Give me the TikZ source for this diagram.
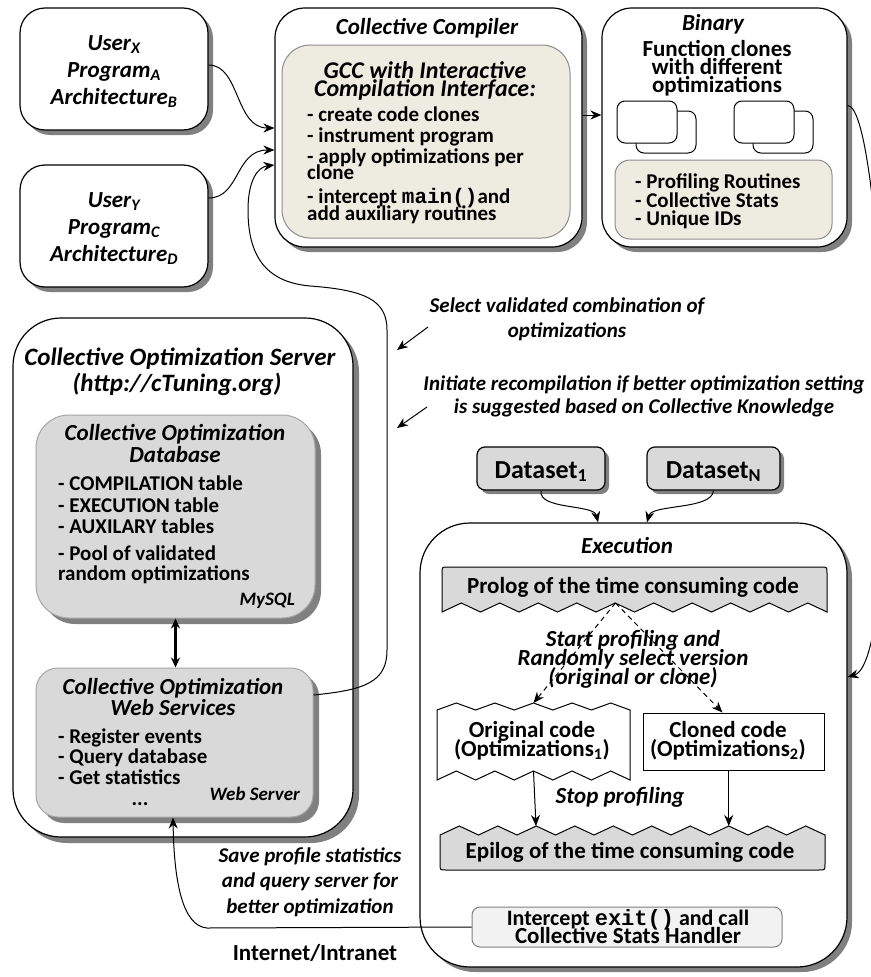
\documentclass[tikz,border=0pt]{standalone}
\usepackage{fontspec}
\setmainfont{Carlito}
\newfontfamily\monof{Liberation Mono}
\usetikzlibrary{arrows.meta,shadows}
\definecolor{beige}{HTML}{EEECE1}
\definecolor{lgray}{HTML}{D9D9D9}
\definecolor{shgray}{HTML}{808080}
\definecolor{bgray}{HTML}{8C8C8C}
\definecolor{vlgray}{HTML}{F2F2F2}
\newcommand\fb[1]{\fontsize{#1}{#1}\selectfont\bfseries}
\newcommand\fbi[1]{\fontsize{#1}{#1}\selectfont\bfseries\itshape}
\begin{document}
\begin{tikzpicture}[x=1pt,y=-1pt,
  shad/.style={drop shadow={shadow xshift=#1,shadow yshift=-#1,fill=shgray,opacity=1}},
  box/.style={draw,line width=1.2pt,fill=white,rectangle,inner sep=0pt},
  ibox/.style={draw=bgray,line width=1pt,rectangle,inner sep=0pt},
  tl/.style={inner sep=0pt,anchor=base},
  tlw/.style={inner sep=0pt,anchor=base west},
  tle/.style={inner sep=0pt,anchor=base east},
  arr/.style={-{Stealth[length=11pt,width=9pt]},line width=1pt},
  darr/.style={arr,dash pattern=on 5pt off 4pt},
  zig/.style={draw,line width=1pt,line join=miter}
]
\useasboundingbox (0,0) rectangle (870,977);

% ---------------- user boxes
\node[box,rounded corners=25pt,shad=5pt,minimum width=188pt,minimum height=122pt] (ux) at (114,69) {};
\node[tl] (ux1) at (114,50) {\fbi{23}User\textsubscript{X}};
\node[tl] (ux2) at (114,77) {\fbi{23}Program\textsubscript{A}};
\node[tl] (ux3) at (114,104) {\fbi{23}Architecture\textsubscript{B}};
\node[box,rounded corners=25pt,shad=5pt,minimum width=188pt,minimum height=122pt] (uy) at (114,226) {};
\node[tl] (uy1) at (114,207) {\fbi{23}User\textsubscript{Y}};
\node[tl] (uy2) at (114,234) {\fbi{23}Program\textsubscript{C}};
\node[tl] (uy3) at (114,261) {\fbi{23}Architecture\textsubscript{D}};

% ---------------- compiler
\node[box,rounded corners=30pt,shad=5pt,minimum width=307pt,minimum height=239pt] (cc) at (428.5,127.5) {};
\node[tl] (cct) at (427,34) {\fbi{23}Collective Compiler};
\node[ibox,fill=beige,rounded corners=28pt,minimum width=288pt,minimum height=193pt] (gcc) at (426,141.5) {};
\node[tl] (g1) at (425,78) {\fbi{24}GCC with Interactive};
\node[tl] (g2) at (425,96) {\fbi{24}Compilation Interface:};
\node[tlw] (g3) at (307,121) {\fb{21}- create code clones};
\node[tlw] (g4) at (307,142) {\fb{21}- instrument program};
\node[tlw] (g5) at (307,163) {\fb{21}- apply optimizations per};
\node[tlw] (g6) at (307,179) {\fb{21}clone};
\node[tlw] (g7) at (307,203) {\fb{21}- intercept {\monof main()}and};
\begin{scope}
\clip (282,45) rectangle (570,224);
\node[tlw] (g8) at (307,220) {\fb{21}add auxiliary routines};
\end{scope}

% ---------------- binary
\node[box,rounded corners=30pt,shad=5pt,minimum width=245pt,minimum height=239pt] (bin) at (724.5,127.5) {};
\node[tl] (bt) at (713,30) {\fbi{23}Binary};
\node[tl] (b1) at (717,56) {\fb{23}Function clones};
\node[tl] (b2) at (717,74) {\fb{23}with different};
\node[tl] (b3) at (717,92) {\fb{23}optimizations};
\node[box,line width=1pt,rounded corners=8pt,minimum width=60pt,minimum height=42pt] (f1b) at (666,132) {};
\node[box,line width=1pt,rounded corners=8pt,minimum width=60pt,minimum height=42pt] (f1a) at (647,122) {};
\node[box,line width=1pt,rounded corners=8pt,minimum width=60pt,minimum height=42pt] (f2b) at (783,132) {};
\node[box,line width=1pt,rounded corners=8pt,minimum width=60pt,minimum height=42pt] (f2a) at (764,122) {};
\node[ibox,fill=beige,rounded corners=15pt,minimum width=217pt,minimum height=79pt] (binr) at (723.5,199.5) {};
\node[tlw] (br1) at (635,188) {\fb{21}- Profiling Routines};
\node[tlw] (br2) at (635,207) {\fb{21}- Collective Stats};
\node[tlw] (br3) at (635,225) {\fb{21}- Unique IDs};

% ---------------- server
\node[box,rounded corners=48pt,shad=6pt,minimum width=340pt,minimum height=519pt] (srv) at (183,577.5) {};
\node[tl] (s1) at (180,365) {\fbi{25}Collective Optimization Server};
\node[tl] (s2) at (177,391) {\fbi{25}(http://cTuning.org)};
\node[ibox,draw=gray!70,fill=lgray,rounded corners=33pt,shad=6pt,minimum width=279pt,minimum height=203pt] (db) at (175.5,516.5) {};
\node[tl] (d1t) at (175,440) {\fbi{23}Collective Optimization};
\node[tl] (d2t) at (175,462) {\fbi{23}Database};
\node[tlw] (d3t) at (58,490) {\fb{21}- COMPILATION table};
\node[tlw] (d4t) at (58,512) {\fb{21}- EXECUTION table};
\node[tlw] (d5t) at (58,533) {\fb{21}- AUXILARY tables};
\node[tlw] (d6t) at (58,560) {\fb{21}- Pool of validated};
\node[tlw] (d7t) at (58,580) {\fb{21}random optimizations};
\node[tle] (d8t) at (295,605) {\fbi{19}MySQL};
\node[ibox,draw=gray!70,fill=lgray,rounded corners=22pt,shad=6pt,minimum width=277pt,minimum height=149pt] (ws) at (174.5,742.5) {};
\node[tl] (w1) at (173,694) {\fbi{23}Collective Optimization};
\node[tl] (w2) at (173,715) {\fbi{23}Web Services};
\node[tlw] (w3) at (58,743) {\fb{21}- Register events};
\node[tlw] (w4) at (58,763) {\fb{21}- Query database};
\node[tlw] (w5) at (58,784) {\fb{21}- Get statistics};
\node[tl] (w6) at (140,805) {\fb{21}...};
\node[tle] (w7) at (300,800) {\fbi{19}Web Server};
\draw[{Stealth[length=10pt,width=9pt]}-{Stealth[length=10pt,width=9pt]},line width=2.2pt] (db.south) -- (db.south |- ws.north);

% ---------------- annotations
\node[tl] (a1) at (567,312) {\fbi{21}Select validated combination of};
\node[tl] (a2) at (567,337) {\fbi{21}optimizations};
\node[tl] (a3) at (644,390) {\fbi{21}Initiate recompilation if better optimization setting};
\node[tl] (a4) at (644,413) {\fbi{21}is suggested based on Collective Knowledge};
\coordinate (s1a) at (428,327); \coordinate (s1b) at (397,350);
\coordinate (s2a) at (427,407); \coordinate (s2b) at (397,428);
\draw[arr] (s1a) -- (s1b);
\draw[arr] (s2a) -- (s2b);

% ---------------- datasets
\node[box,fill=lgray,rounded corners=8pt,shad=4pt,minimum width=128pt,minimum height=43pt] (ds1) at (541,468.5) {};
\node[tl] (ds1t) at (541,478) {\fb{26}Dataset\textsubscript{1}};
\node[box,fill=lgray,rounded corners=8pt,shad=4pt,minimum width=133pt,minimum height=43pt] (dsn) at (713.5,468.5) {};
\node[tl] (dsnt) at (713.5,478) {\fb{26}Dataset\textsubscript{N}};

% ---------------- execution
\node[box,rounded corners=50pt,shad=5pt,minimum width=427pt,minimum height=444pt] (exe) at (633.5,745) {};
\node[tl] (et) at (627,553) {\fbi{23}Execution};
\draw[zig,fill=lgray] (442,612) -- (442,573) .. controls (442,567) .. (448,567) -- (821,567) .. controls (827,567) .. (827,573) -- (827,612)
  \foreach \k in {1,...,10} { -- ({827-(\k-0.5)*38.5},603) -- ({827-\k*38.5},612) } -- cycle;
\node[tl] (pt) at (633,593) {\fb{23}Prolog of the time consuming code};
\coordinate (ptip) at (615.5,603);
\coordinate (otop) at (533.5,703);
\draw[zig,fill=white] (437,710) \foreach \k in {1,...,5} { -- ({437+(\k-0.5)*38.6},703) -- ({437+\k*38.6},710) }
  -- (630,780) \foreach \k in {1,...,5} { -- ({630-(\k-0.5)*38.6},771) -- ({630-\k*38.6},780) } -- cycle;
\node[tl] (o1) at (532,737) {\fb{23}Original code};
\node[tl] (o2) at (532,756) {\fb{23}(Optimizations\textsubscript{1})};
\node[box,line width=1pt,minimum width=181pt,minimum height=57pt] (clon) at (733.5,741.5) {};
\node[tl] (c1) at (728,737) {\fb{23}Cloned code};
\node[tl] (c2) at (728,756) {\fb{23}(Optimizations\textsubscript{2})};
\draw[darr] (ptip) -- (otop);
\draw[darr] (ptip) -- ([xshift=-11pt]clon.north);
\node[tl] (sp1) at (633,646) {\fbi{23}Start profiling and};
\node[tl] (sp2) at (633,665) {\fbi{23}Randomly select version};
\node[tl] (sp3) at (633,684) {\fbi{23}(original or clone)};
\draw[zig,fill=lgray] (440,835) \foreach \k in {1,...,10} { -- ({440+(\k-0.5)*38.5},826) -- ({440+\k*38.5},835) }
  -- (825,864) .. controls (825,870) .. (819,870) -- (446,870) .. controls (440,870) .. (440,864) -- cycle;
\node[tl] (ept) at (630,858) {\fb{23}Epilog of the time consuming code};
\coordinate (obot) at (533.5,771);
\coordinate (epa) at (536,826);
\coordinate (epb) at (728.75,826);
\draw[arr] (obot) -- (epa);
\draw[arr] ([xshift=-4.75pt]clon.south) -- (epb);
\node[tl] (stp) at (620,803) {\fbi{23}Stop profiling};
\node[ibox,draw=gray,fill=vlgray,rounded corners=8pt,minimum width=310pt,minimum height=40pt] (ic) at (627,927) {};
\node[tl] (ic1) at (628,925) {\fb{22}Intercept {\monof exit()} and call};
\node[tl] (ic2) at (628,943) {\fb{23}Collective Stats Handler};

% ---------------- bottom labels
\node[tl] (sv1) at (310,862) {\fbi{21}Save profile statistics};
\node[tl] (sv2) at (310,887) {\fbi{21}and query server for};
\node[tl] (sv3) at (310,913) {\fbi{21}better optimization};
\node[tl] (inet) at (315,960) {\fb{23}Internet/Intranet};

% ---------------- connectors
\draw[arr] ([yshift=4pt]ux.east) .. controls (240,65) and (235,128) .. ([yshift=-0.5pt]cc.west);
\draw[arr] ([yshift=28pt]uy.east) .. controls (240,198) and (235,150) .. ([yshift=-22.5pt]cc.west);
\draw[arr] ([yshift=12.5pt]cc.east) -- ([yshift=12.5pt]bin.west);
\draw[arr] ([yshift=22pt]bin.east) .. controls (885,105) and (905,660) .. ([yshift=68pt]exe.east);
\draw[arr] ([yshift=47.5pt]ws.east) .. controls (365,690) and (387,682) .. (387,650) -- (387,330)
  .. controls (387,300) and (365,290) .. (310,286) .. controls (265,282) and (248,255) .. (248,210)
  .. controls (248,180) and (258,167) .. ([yshift=-37.5pt]cc.west);
\draw[arr] (ds1.south) .. controls (538,510) and (594,504) .. ([xshift=-35.5pt]exe.north);
\draw[arr] (dsn.south) .. controls (712,510) and (652,504) .. ([xshift=13.5pt]exe.north);
\coordinate (bend) at (207,928);
\draw[arr] (ic.west) -- (bend) .. controls (182,926) and (174,880) .. ([xshift=-1.5pt]ws.south);
\end{tikzpicture}
\end{document}
